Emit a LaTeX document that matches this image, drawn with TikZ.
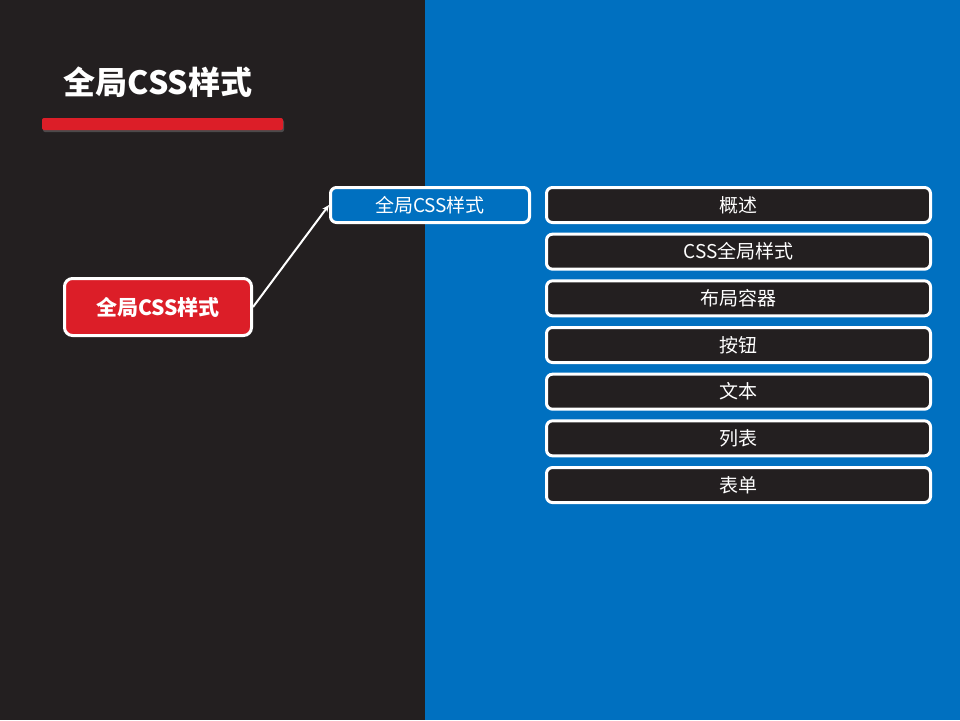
\documentclass[tikz,border=0pt]{standalone}
\usepackage{fontspec}
\setmainfont{Noto Sans CJK SC}
\usetikzlibrary{arrows.meta,positioning,shadows}

\definecolor{darkbg}{HTML}{231F20}
\definecolor{bluebg}{HTML}{0070C0}
\definecolor{redbox}{HTML}{DC1E28}

\begin{document}
\begin{tikzpicture}[x=1pt, y=-1pt,
		basic/.style   = {draw=white, line width=3pt, rounded corners=6pt, text=white, align=center, inner sep=0pt},
		root/.style    = {basic, fill=redbox, rounded corners=8pt, minimum width=187pt, minimum height=57pt, font=\fontsize{21}{24}\selectfont\bfseries},
		level 2/.style = {basic, fill=bluebg, minimum width=199pt, minimum height=35pt, font=\fontsize{19}{22}\selectfont},
		level 3/.style = {basic, fill=darkbg, minimum width=384pt, minimum height=35pt, font=\fontsize{19}{22}\selectfont},
		bar/.style     = {fill=redbox, rounded corners=2pt, minimum width=241pt, minimum height=12pt, inner sep=0pt,
			drop shadow={opacity=0.45, shadow xshift=1pt, shadow yshift=-2pt}},
		>={Stealth[length=7pt, width=6pt]}]
	
	% background halves
	\useasboundingbox (0,0) rectangle (960,720);
	\fill[darkbg] (0,0) rectangle (425,720);
	\fill[bluebg] (425,0) rectangle (960,720);
	
	% title with its red bar
	\node[text=white, font=\fontsize{32}{36}\selectfont\bfseries] (title) at (158,82) {全局CSS样式};
	\node[bar] (underline) at (162.5,124) {};
	
	% root and first level
	\node[root] (r) at (158,307) {全局CSS样式};
	\node[level 2] (c) at (430,205) {全局CSS样式};
	
	% list of topics, each below the one before
	\node[level 3] (c1) at (738.5,205) {概述};
	\foreach \txt [count=\i from 2] in {CSS全局样式,布局容器,按钮,文本,列表,表单} {
		\pgfmathtruncatemacro{\j}{\i-1}
		\node[level 3, below=8.67pt of c\j] (c\i) {\txt};
	}
	
	% link from root to first level
	\draw[->, white, line width=2pt] (r.east) -- (c.west);
	
\end{tikzpicture}
\end{document}
